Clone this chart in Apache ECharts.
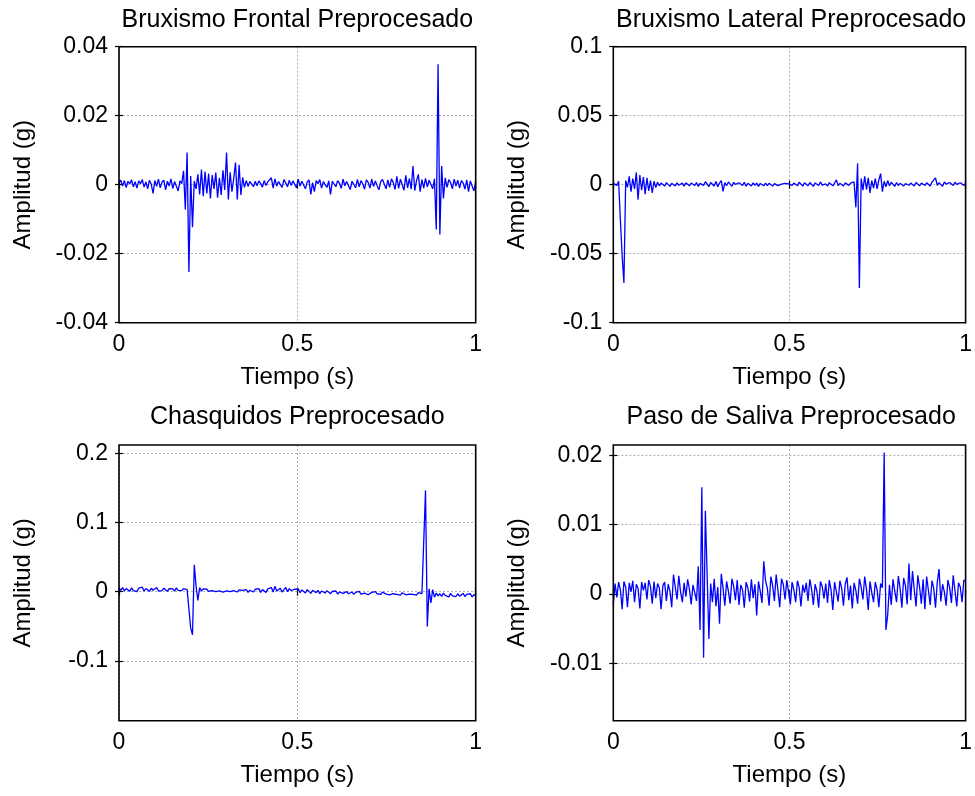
<!DOCTYPE html>
<html>
<head>
<meta charset="utf-8">
<script src="https://cdn.jsdelivr.net/npm/echarts@6/dist/echarts.min.js"></script>
<style>
html,body{margin:0;padding:0;background:#fff;}
#chart{width:975px;height:796px;}
</style>
</head>
<body>
<div id="chart"></div>
<script>
// ---- data ----
const N = 200; // samples per record, 0..1 s
const tiempo = Array.from({length: N}, (_, i) => i / (N - 1));

const titulos = ['Bruxismo Frontal Preprocesado', 'Bruxismo Lateral Preprocesado', 'Chasquidos Preprocesado', 'Paso de Saliva Preprocesado'];
const xNombre = 'Tiempo (s)';
const yNombre = 'Amplitud (g)';
const xTicks = [0, 0.5, 1];

const bruxFrontal = [
 0.0005, 0.0013,-0.0004, 0.0012,-0.0008, 0.0010, 0.0002, 0.0014,-0.0006, 0.0009,
-0.0010, 0.0011, 0.0003, 0.0015,-0.0007, 0.0008,-0.0012, 0.0013, 0.0001,-0.0025,
 0.0012,-0.0005, 0.0016,-0.0009, 0.0007, 0.0013,-0.0015, 0.0010,-0.0004, 0.0017,
-0.0011, 0.0009, 0.0014,-0.0018, 0.0011, 0.0003, 0.0040,-0.0072, 0.0093,-0.0253,
 0.0025,-0.0123, 0.0010,-0.0012, 0.0030,-0.0028, 0.0044,-0.0033, 0.0038,-0.0025,
 0.0032,-0.0040, 0.0028,-0.0012, 0.0035,-0.0038, 0.0020,-0.0030, 0.0042,-0.0015,
 0.0093,-0.0043, 0.0036,-0.0020, 0.0018, 0.0064,-0.0043, 0.0058,-0.0030, 0.0021,
-0.0008, 0.0012,-0.0005, 0.0009, 0.0002,-0.0006, 0.0010,-0.0003, 0.0011, 0.0004,
-0.0007, 0.0012,-0.0002, 0.0008, 0.0006, 0.0020,-0.0010, 0.0017,-0.0004, 0.0009,
 0.0012,-0.0008, 0.0015, 0.0005,-0.0006, 0.0013,-0.0002, 0.0011, 0.0007,-0.0009,
 0.0016,-0.0004, 0.0010, 0.0013,-0.0012, 0.0008, 0.0014,-0.0028, 0.0006,-0.0020,
 0.0012, 0.0003, 0.0015,-0.0010, 0.0009, 0.0013,-0.0008, 0.0011,-0.0028, 0.0010,
 0.0014,-0.0006, 0.0012, 0.0004,-0.0011, 0.0016,-0.0003, 0.0009, 0.0013,-0.0014,
 0.0010, 0.0005,-0.0009, 0.0015,-0.0006, 0.0012, 0.0002,-0.0013, 0.0014, 0.0007,
-0.0010, 0.0016,-0.0005, 0.0011, 0.0013,-0.0015, 0.0009, 0.0015, 0.0019,-0.0012,
 0.0014,-0.0008, 0.0017, 0.0006,-0.0014, 0.0024,-0.0011, 0.0016, 0.0021,-0.0016,
 0.0027,-0.0009, 0.0018,-0.0013, 0.0054,-0.0017, 0.0012, 0.0030,-0.0020, 0.0015,
-0.0010, 0.0018,-0.0006, 0.0013, 0.0008,-0.0012, 0.0017,-0.0130, 0.0349,-0.0144,
 0.0054,-0.0040, 0.0020,-0.0008, 0.0015, 0.0006,-0.0012, 0.0016,-0.0004, 0.0013,
-0.0010, 0.0012, 0.0005,-0.0013, 0.0014,-0.0020, 0.0011, 0.0007,-0.0018, 0.0010
];

const bruxLateral = [
 0.0010, 0.0020,-0.0005, 0.0025,-0.0254,-0.0514,-0.0712, 0.0030,-0.0020, 0.0060,
-0.0050, 0.0045,-0.0030, 0.0089,-0.0109, 0.0070,-0.0040, 0.0055,-0.0068, 0.0050,
-0.0045, 0.0030,-0.0060, 0.0025,-0.0020, 0.0018,-0.0008, 0.0012, 0.0004,-0.0010,
 0.0015, 0.0002,-0.0012, 0.0010, 0.0006,-0.0009, 0.0013,-0.0004, 0.0008, 0.0011,
-0.0010, 0.0014, 0.0003,-0.0008, 0.0012, 0.0020,-0.0006, 0.0015,-0.0012, 0.0010,
 0.0018,-0.0005, 0.0022, 0.0008,-0.0013, 0.0016, 0.0003,-0.0010, 0.0024,-0.0015,
 0.0012, 0.0030,-0.0048, 0.0015,-0.0008, 0.0020, 0.0006,-0.0012, 0.0017, 0.0002,
-0.0010, 0.0014, 0.0008,-0.0006, 0.0018,-0.0011, 0.0010, 0.0004,-0.0009, 0.0013,
-0.0004, 0.0011,-0.0012, 0.0009, 0.0005,-0.0008, 0.0012,-0.0006, 0.0010, 0.0003,
-0.0010, 0.0008, 0.0002,-0.0007, 0.0006, 0.0004,-0.0005, 0.0009, 0.0001, 0.0006,
 0.0015,-0.0005, 0.0012, 0.0003,-0.0007, 0.0018, 0.0006,-0.0010, 0.0014, 0.0002,
-0.0008, 0.0016, 0.0005,-0.0012, 0.0013, 0.0008,-0.0006, 0.0020,-0.0003, 0.0011,
 0.0006,-0.0010, 0.0015, 0.0002,-0.0008, 0.0012, 0.0035,-0.0006, 0.0010, 0.0004,
-0.0009, 0.0014, 0.0002,-0.0005, 0.0012, 0.0008, 0.0020,-0.0164, 0.0155,-0.0749,
 0.0045,-0.0040, 0.0060,-0.0035, 0.0050,-0.0060, 0.0030,-0.0025, 0.0045,-0.0030,
 0.0035, 0.0080,-0.0050, 0.0025,-0.0015, 0.0030,-0.0008, 0.0018, 0.0005,-0.0012,
 0.0016,-0.0006, 0.0010, 0.0014,-0.0010, 0.0008, 0.0015,-0.0004, 0.0012, 0.0002,
-0.0009, 0.0016, 0.0006,-0.0008, 0.0012, 0.0010,-0.0005, 0.0014, 0.0003,-0.0010,
 0.0018, 0.0006, 0.0050,-0.0005, 0.0015, 0.0008,-0.0012, 0.0020, 0.0004,-0.0008,
 0.0016, 0.0009,-0.0006, 0.0018, 0.0002,-0.0010, 0.0014, 0.0020,-0.0005, 0.0010
];

const chasquidos = [
 0.0050, 0.0020, 0.0060, 0.0010, 0.0045, 0.0025, 0.0005, 0.0055, 0.0015, 0.0040,
 0.0000, 0.0050, 0.0030, 0.0065, 0.0010, 0.0045, 0.0025, 0.0005, 0.0050, 0.0020,
 0.0040, 0.0060, 0.0010, 0.0035, 0.0015, 0.0050, 0.0030, 0.0005, 0.0045, 0.0025,
 0.0040, 0.0010, 0.0055, 0.0020, 0.0035, 0.0015, 0.0045, 0.0020, 0.0030, 0.0020,
-0.0527,-0.0623, 0.0390, 0.0080,-0.0126, 0.0060, 0.0010, 0.0040, 0.0020, 0.0035,
 0.0005, 0.0030, 0.0015, 0.0040, 0.0000, 0.0025, 0.0010, 0.0030,-0.0005, 0.0020,
 0.0010, 0.0035, 0.0000, 0.0020, 0.0015, 0.0030,-0.0005, 0.0025, 0.0005, 0.0020,
 0.0010, 0.0030,-0.0010, 0.0020, 0.0040,-0.0005, 0.0035, 0.0010, 0.0045,-0.0010,
 0.0030, 0.0050,-0.0010, 0.0040, 0.0015, 0.0060,-0.0005, 0.0077, 0.0010, 0.0035,
 0.0050,-0.0005, 0.0030, 0.0060, 0.0000, 0.0045, 0.0015,-0.0010, 0.0035, 0.0010,
 0.0040,-0.0015, 0.0025, 0.0050,-0.0020, 0.0030, 0.0005,-0.0025, 0.0020, 0.0000,
-0.0015, 0.0020,-0.0030, 0.0010, 0.0000,-0.0020, 0.0015,-0.0010,-0.0030, 0.0005,
-0.0015, 0.0010,-0.0035,-0.0005, 0.0005,-0.0025,-0.0010, 0.0000,-0.0030,-0.0015,
-0.0005,-0.0040,-0.0010,-0.0025, 0.0005,-0.0035,-0.0015,-0.0020,-0.0005,-0.0045,
-0.0020,-0.0010,-0.0035, 0.0000,-0.0030,-0.0015,-0.0040,-0.0005,-0.0025,-0.0035,
-0.0010,-0.0045,-0.0020,-0.0030,-0.0005,-0.0040,-0.0020,-0.0050,-0.0015,-0.0030,
-0.0045,-0.0020,-0.0035,-0.0010,-0.0040,-0.0025,-0.0050,-0.0015,-0.0035,-0.0030,
-0.0050, 0.1464,-0.0502, 0.0040,-0.0164, 0.0030,-0.0080,-0.0020,-0.0060,-0.0030,
-0.0070,-0.0020,-0.0055,-0.0035,-0.0075,-0.0025,-0.0060,-0.0040,-0.0070,-0.0030,
-0.0065,-0.0045,-0.0025,-0.0070,-0.0040,-0.0060,-0.0030,-0.0075,-0.0045,-0.0055
];

const pasoSaliva = [
-0.0015, 0.0015,-0.0005, 0.0017, 0.0006,-0.0022, 0.0018, 0.0010,-0.0019, 0.0016,
 0.0003, 0.0019,-0.0012, 0.0014, 0.0008,-0.0021, 0.0017, 0.0005, 0.0016,-0.0008,
 0.0020, 0.0011,-0.0014, 0.0018,-0.0006, 0.0015, 0.0009,-0.0022, 0.0012, 0.0017,
-0.0010, 0.0014, 0.0004,-0.0019, 0.0028, 0.0010,-0.0008, 0.0026, 0.0003,-0.0012,
 0.0016,-0.0004, 0.0021, 0.0007,-0.0015, 0.0013, 0.0002,-0.0010, 0.0040,-0.0052,
 0.0154,-0.0092, 0.0120, 0.0120,-0.0065, 0.0015,-0.0012, 0.0022,-0.0018, 0.0010,
-0.0043, 0.0029, 0.0008,-0.0017, 0.0018, 0.0004,-0.0014, 0.0022, 0.0011,-0.0009,
 0.0020,-0.0016, 0.0013, 0.0006,-0.0020, 0.0017, 0.0009,-0.0011, 0.0021,-0.0006,
 0.0014,-0.0031, 0.0018, 0.0004,-0.0013, 0.0047, 0.0019, 0.0008,-0.0017, 0.0025,
 0.0012,-0.0010, 0.0028, 0.0005,-0.0019, 0.0022, 0.0014,-0.0008, 0.0020, 0.0003,
-0.0015, 0.0017, 0.0006,-0.0012, 0.0019, 0.0009,-0.0018, 0.0013, 0.0002, 0.0016,
-0.0010, 0.0021, 0.0007,-0.0016, 0.0014, 0.0004,-0.0020, 0.0018, 0.0011,-0.0007,
 0.0015,-0.0013, 0.0020, 0.0006,-0.0023, 0.0017, 0.0003,-0.0011, 0.0019, 0.0008,
-0.0017, 0.0014, 0.0024,-0.0009, 0.0012,-0.0021, 0.0016, 0.0005,-0.0014, 0.0022,
 0.0010,-0.0008, 0.0025, 0.0007,-0.0023, 0.0018, 0.0002,-0.0012, 0.0017, 0.0006,
-0.0019, 0.0015, 0.0009, 0.0204,-0.0052,-0.0030, 0.0013,-0.0016, 0.0021, 0.0004,
-0.0012, 0.0026, 0.0008,-0.0020, 0.0023, 0.0012,-0.0015, 0.0044,-0.0009, 0.0033,
 0.0006,-0.0018, 0.0027, 0.0010,-0.0014, 0.0021,-0.0022, 0.0025, 0.0005,-0.0016,
 0.0019, 0.0008,-0.0020, 0.0017, 0.0036,-0.0011, 0.0014, 0.0003,-0.0017, 0.0020,
 0.0009,-0.0013, 0.0027, 0.0005,-0.0018, 0.0016, 0.0010,-0.0012, 0.0020, 0.0018
];

const yTicks = [
  [-0.04, -0.02, 0, 0.02, 0.04],
  [-0.1, -0.05, 0, 0.05, 0.1],
  [-0.1, 0, 0.1, 0.2],
  [-0.01, 0, 0.01, 0.02]
];
const yLimits = [[-0.04, 0.04], [-0.1, 0.1], [-0.1865, 0.212], [-0.0183, 0.0215]];
const seriesValues = [bruxFrontal, bruxLateral, chasquidos, pasoSaliva];

// ---- layout / style ----
const FONT = '"Liberation Sans", Arial, Helvetica, sans-serif';
const grids = [
  {left: 119, top: 46.7, width: 356.7, height: 276},
  {left: 613.3, top: 46.7, width: 355.7, height: 276},
  {left: 119, top: 445, width: 356.7, height: 275.7},
  {left: 613.3, top: 445, width: 355.7, height: 275.7}
];
const titleTops = [8, 8, 405, 405];

const gridLineStyle = {color: '#b0b0b0', type: [2, 2], width: 1};
const option = {
  animation: false,
  backgroundColor: '#ffffff',
  textStyle: {fontFamily: FONT},
  grid: grids.map(g => Object.assign({show: true, z: 10, borderColor: '#000', borderWidth: 1.6, backgroundColor: 'transparent', containLabel: false}, g)),
  title: titulos.map((t, k) => ({
    text: t,
    left: grids[k].left + grids[k].width / 2,
    top: titleTops[k],
    textAlign: 'center',
    padding: 0,
    textStyle: {fontFamily: FONT, fontSize: 25, fontWeight: 'normal', color: '#000', lineHeight: 25}
  })),
  xAxis: [],
  yAxis: [],
  series: []
};

for (let k = 0; k < 4; k++) {
  // bottom x axis
  option.xAxis.push({
    type: 'value', gridIndex: k, position: 'bottom', min: 0, max: 1,
    name: xNombre, nameLocation: 'middle', nameGap: 43,
    nameTextStyle: {fontFamily: FONT, fontSize: 24, color: '#000'},
    axisLine: {show: false},
    axisTick: {show: true, inside: true, length: 4, customValues: xTicks, lineStyle: {color: '#000', width: 1.2}},
    axisLabel: {show: true, customValues: xTicks, margin: 10, fontFamily: FONT, fontSize: 23, color: '#000', formatter: v => String(v)},
    splitLine: {show: true, lineStyle: gridLineStyle}
  });
  // top x axis (ticks only)
  option.xAxis.push({
    type: 'value', gridIndex: k, position: 'top', min: 0, max: 1,
    axisLine: {show: false},
    axisTick: {show: true, inside: true, length: 4, customValues: xTicks, lineStyle: {color: '#000', width: 1.2}},
    axisLabel: {show: false, customValues: xTicks},
    splitLine: {show: false}
  });
  // left y axis
  option.yAxis.push({
    type: 'value', gridIndex: k, position: 'left', min: yLimits[k][0], max: yLimits[k][1],
    name: yNombre, nameLocation: 'middle', nameGap: 84, nameRotate: 90,
    nameTextStyle: {fontFamily: FONT, fontSize: 24, color: '#000'},
    axisLine: {show: false},
    axisTick: {show: true, inside: true, length: 4, customValues: yTicks[k], lineStyle: {color: '#000', width: 1.2}},
    axisLabel: {show: true, customValues: yTicks[k], margin: 11, fontFamily: FONT, fontSize: 23, color: '#000', formatter: v => String(+v.toFixed(4))},
    splitLine: {show: true, lineStyle: gridLineStyle}
  });
  // right y axis (ticks only)
  option.yAxis.push({
    type: 'value', gridIndex: k, position: 'right', min: yLimits[k][0], max: yLimits[k][1],
    axisLine: {show: false},
    axisTick: {show: true, inside: true, length: 4, customValues: yTicks[k], lineStyle: {color: '#000', width: 1.2}},
    axisLabel: {show: false, customValues: yTicks[k]},
    splitLine: {show: false}
  });
  option.series.push({
    type: 'line',
    name: titulos[k],
    xAxisIndex: 2 * k,
    yAxisIndex: 2 * k,
    data: tiempo.map((t, i) => [t, seriesValues[k][i]]),
    showSymbol: false,
    symbol: 'none',
    lineStyle: {color: '#0000ff', width: 1.3},
    itemStyle: {color: '#0000ff'},
    clip: true,
    z: 3
  });
}

const chart = echarts.init(document.getElementById('chart'), null, {renderer: 'canvas'});
chart.setOption(option);
</script>
</body>
</html>
